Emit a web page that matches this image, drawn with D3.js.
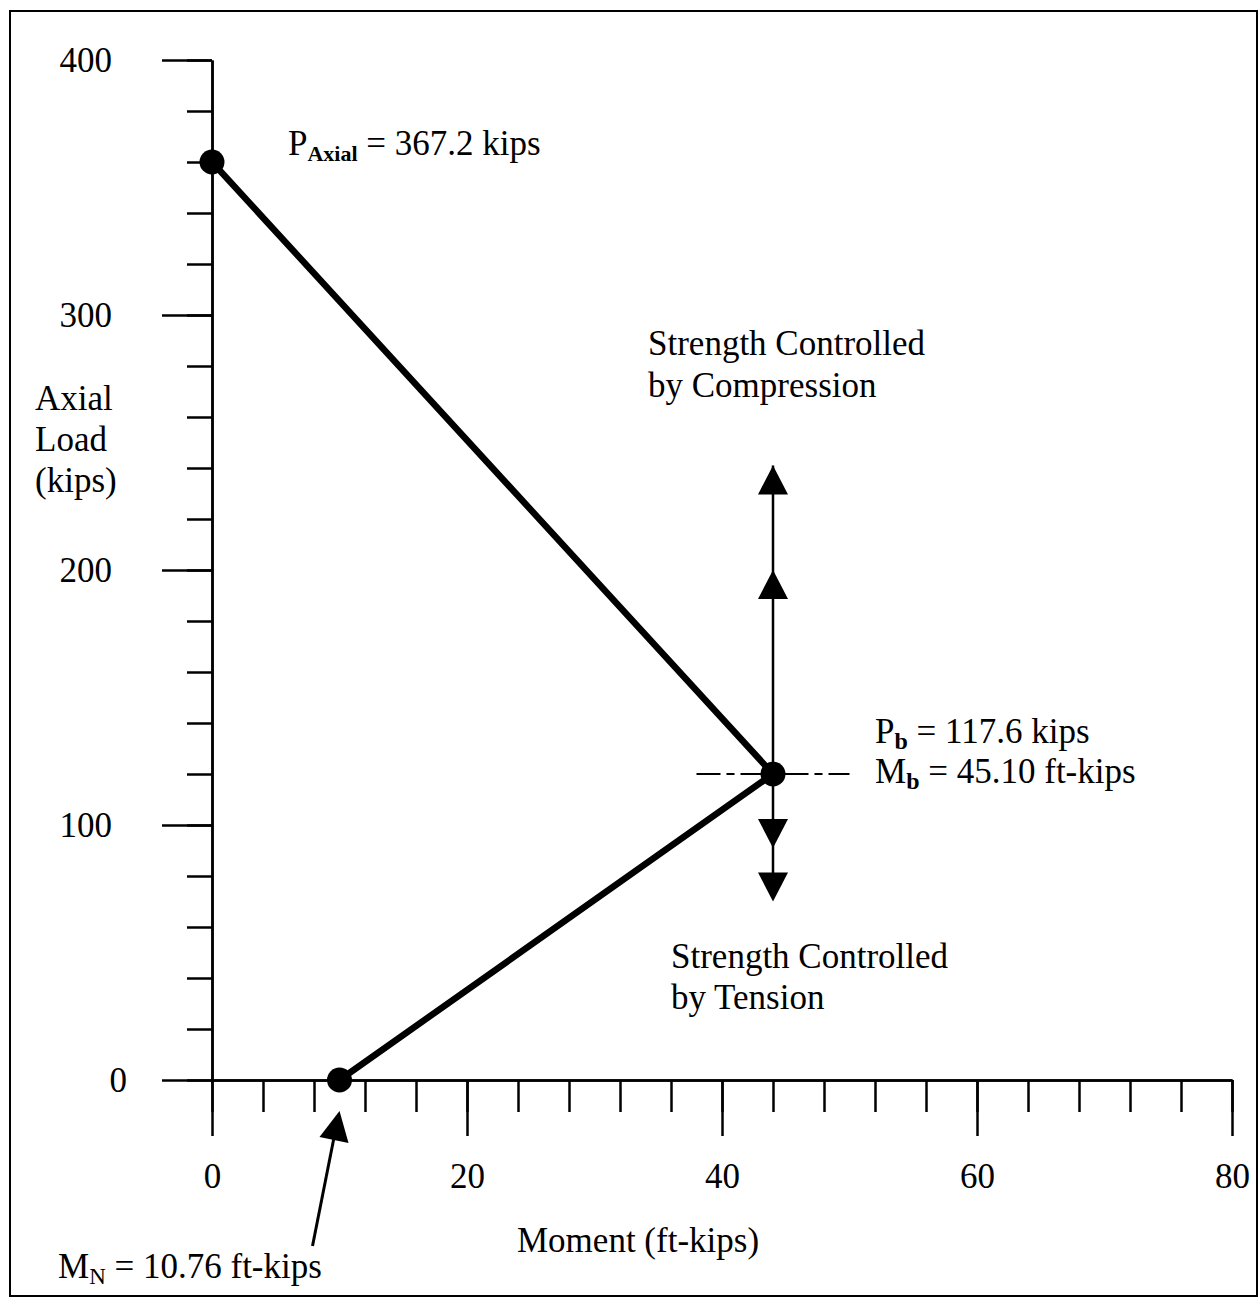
<!DOCTYPE html>
<html>
<head>
  <meta charset="utf-8">
  <title>Interaction Diagram</title>
  <script src="https://d3js.org/d3.v7.min.js"></script>
  <style>
    body { margin: 0; background: #fff; }
    svg { display: block; }
    text { font-family: "Liberation Serif", "Times New Roman", serif; fill: #000; }
    .axis path, .axis line { stroke: #000; stroke-width: 2.5px; }
    .axis text { font-size: 35px; font-family: "Liberation Serif", serif; }
  </style>
</head>
<body>
  <script>
    // Interaction curve points (moment ft-kips, axial kips)
    const moments = [0, 44, 10];
    const loads = [360, 120, 0];

    // axis ticks
    const xMajorTicks = [0, 20, 40, 60, 80];
    const xMinorTicks = d3.range(0, 81, 4);
    const yMajorTicks = [0, 100, 200, 300, 400];
    const yMinorTicks = d3.range(0, 401, 20);

    // arrows above / below the balance point (kips at tip)
    const upArrowTips = [241, 200];
    const downArrowTips = [70, 91];

    const width = 1260;
    const height = 1298;
    const fs = 35;

    const svg = d3.select("body").append("svg")
        .attr("width", width)
        .attr("height", height);

    // outer frame
    svg.append("rect")
        .attr("x", 10).attr("y", 11)
        .attr("width", 1247).attr("height", 1285)
        .attr("fill", "none")
        .attr("stroke", "#000")
        .attr("stroke-width", 2);

    const x = d3.scaleLinear().domain([0, 80]).range([212, 1232]);
    const y = d3.scaleLinear().domain([0, 400]).range([1080, 60]);

    // y axis: minor ticks then major ticks with labels
    svg.append("g").attr("class", "axis")
        .attr("transform", `translate(${x(0)},0)`)
        .call(d3.axisLeft(y).tickValues(yMinorTicks).tickSize(25).tickSizeOuter(0).tickFormat(""));
    const yAxis = svg.append("g").attr("class", "axis")
        .attr("transform", `translate(${x(0)},0)`)
        .call(d3.axisLeft(y).tickValues(yMajorTicks).tickSize(50).tickSizeOuter(0).tickPadding(50));
    yAxis.selectAll(".tick text")
        .attr("x", d => d === 0 ? -85 : -100)
        .attr("text-anchor", "end");

    // x axis
    svg.append("g").attr("class", "axis")
        .attr("transform", `translate(0,${y(0)})`)
        .call(d3.axisBottom(x).tickValues(xMinorTicks).tickSize(32).tickSizeOuter(0).tickFormat(""));
    svg.append("g").attr("class", "axis")
        .attr("transform", `translate(0,${y(0)})`)
        .call(d3.axisBottom(x).tickValues(xMajorTicks).tickSize(56).tickSizeOuter(0).tickPadding(27));

    // balance point guide (dash-dot)
    svg.append("line")
        .attr("x1", x(38)).attr("x2", x(50))
        .attr("y1", y(loads[1])).attr("y2", y(loads[1]))
        .attr("stroke", "#000").attr("stroke-width", 2)
        .attr("stroke-dasharray", "24,6,8,6");

    // vertical arrow stems
    svg.append("line")
        .attr("x1", x(moments[1])).attr("x2", x(moments[1]))
        .attr("y1", y(d3.max(upArrowTips))).attr("y2", y(d3.min(downArrowTips)) - 10)
        .attr("stroke", "#000").attr("stroke-width", 2.5);

    const ah = 29, aw = 15;
    svg.selectAll(".uparrow")
        .data(upArrowTips)
        .join("path")
        .attr("d", d => {
          const cx = x(moments[1]), ty = y(d);
          return `M${cx},${ty}L${cx + aw},${ty + ah}L${cx - aw},${ty + ah}Z`;
        })
        .attr("fill", "#000");
    svg.selectAll(".downarrow")
        .data(downArrowTips)
        .join("path")
        .attr("d", d => {
          const cx = x(moments[1]), ty = y(d);
          return `M${cx},${ty}L${cx + aw},${ty - ah}L${cx - aw},${ty - ah}Z`;
        })
        .attr("fill", "#000");

    // interaction curve
    const pts = moments.map((m, i) => [m, loads[i]]);
    svg.append("path")
        .datum(pts)
        .attr("d", d3.line().x(d => x(d[0])).y(d => y(d[1])))
        .attr("fill", "none")
        .attr("stroke", "#000")
        .attr("stroke-width", 6.5)
        .attr("stroke-linejoin", "round");

    svg.selectAll(".pt")
        .data(pts)
        .join("circle")
        .attr("cx", d => x(d[0]))
        .attr("cy", d => y(d[1]))
        .attr("r", 12.5)
        .attr("fill", "#000");

    // arrow pointing to M_N
    const mnX = x(moments[2]), mnY = y(loads[2]);
    svg.append("line")
        .attr("x1", mnX - 27).attr("y1", mnY + 166)
        .attr("x2", mnX - 4).attr("y2", mnY + 50)
        .attr("stroke", "#000").attr("stroke-width", 3);
    svg.append("path")
        .attr("d", `M${mnX},${mnY + 31}L${mnX + 9},${mnY + 63}L${mnX - 20},${mnY + 57}Z`)
        .attr("fill", "#000");

    // text labels
    function label(tx, ty, parts) {
      const t = svg.append("text")
          .attr("x", tx).attr("y", ty)
          .attr("font-size", fs);
      parts.forEach(p => {
        const s = t.append("tspan").text(p.text);
        if (p.sub) {
          s.attr("font-size", p.size || 22).attr("dy", 6);
          if (p.bold) s.attr("font-weight", "bold");
        } else if (p.back) {
          s.attr("dy", -6);
        }
      });
      return t;
    }

    label(x(0) + 76, y(loads[0]) - 7, [
      { text: "P" }, { text: "Axial", sub: true, bold: true }, { text: " = 367.2 kips", back: true }
    ]);
    label(x(moments[1]) + 102, y(loads[1]) - 31, [
      { text: "P" }, { text: "b", sub: true, bold: true, size: 24 }, { text: " = 117.6 kips", back: true }
    ]);
    label(x(moments[1]) + 102, y(loads[1]) + 9, [
      { text: "M" }, { text: "b", sub: true, bold: true, size: 24 }, { text: " = 45.10 ft-kips", back: true }
    ]);
    label(58, 1278, [
      { text: "M" }, { text: "N", sub: true, size: 23 }, { text: " = 10.76 ft-kips", back: true }
    ]);

    const compLines = ["Strength Controlled", "by Compression"];
    const tensLines = ["Strength Controlled", "by Tension"];
    const yTitle = ["Axial", "Load", "(kips)"];

    svg.append("g").selectAll("text").data(compLines).join("text")
        .attr("x", 648).attr("y", (d, i) => 355 + i * 42)
        .attr("font-size", fs).text(d => d);
    svg.append("g").selectAll("text").data(tensLines).join("text")
        .attr("x", 671).attr("y", (d, i) => 968 + i * 41)
        .attr("font-size", fs).text(d => d);
    svg.append("g").selectAll("text").data(yTitle).join("text")
        .attr("x", 35).attr("y", (d, i) => 410 + i * 41)
        .attr("font-size", fs).text(d => d);

    svg.append("text")
        .attr("x", 517).attr("y", 1252)
        .attr("font-size", fs)
        .text("Moment (ft-kips)");
  </script>
</body>
</html>
